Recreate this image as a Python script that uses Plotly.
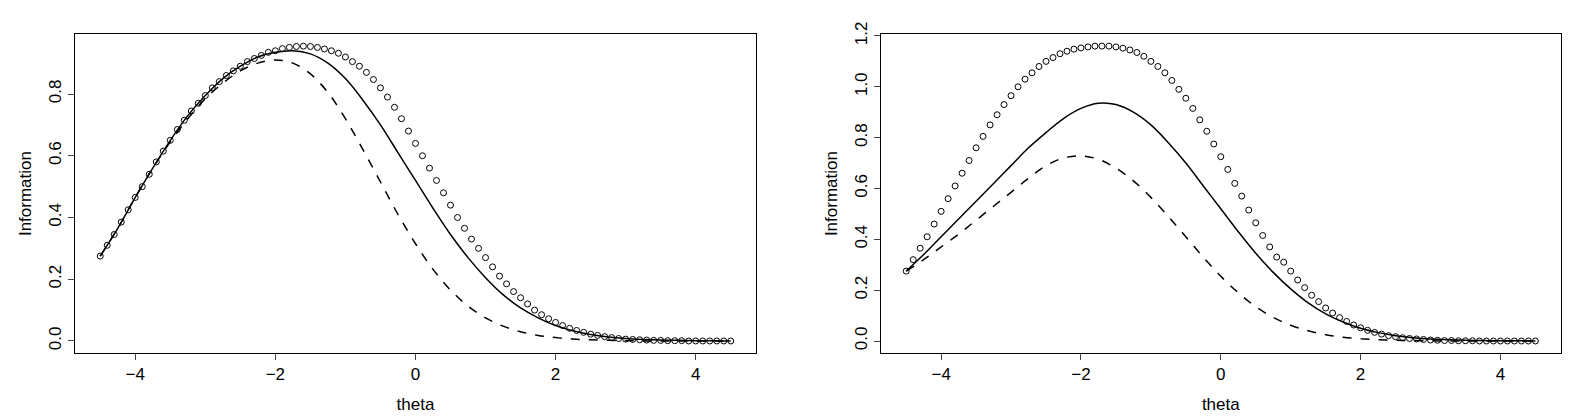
import numpy as np
import plotly.graph_objects as go

theta_pts = np.round(np.arange(-4.5, 4.51, 0.1), 1)
theta_line = np.arange(-4.5, 4.51, 0.25)

left_circles = [
    .275, .31, .345, .385, .425, .465, .50, .54, .58, .615, .65, .685, .715, .745, .77, .795,
    .82, .84, .86, .875, .89, .905, .915, .925, .935, .94, .947, .951, .954, .955, .954, .951,
    .946, .94, .932, .92, .905, .89, .87, .847, .82, .79, .757, .72, .68, .64, .60,
    .56, .52, .48, .44, .40, .365, .33, .30, .27, .24, .21, .185, .16, .14, .12,
    .10, .085, .072, .06, .05, .041, .034, .028, .022, .018, .014, .011, .008, .006,
    .005, .004, .003, .002, .002, .001, .001, .001, 0, 0, 0, 0, 0, 0, 0]
left_solid = [
    .275, .365, .465, .56, .65, .73, .795, .85, .89, .92, .935, .94, .93, .9, .85, .78, .70,
    .61, .52, .43, .345, .27, .205, .15, .107, .075, .05, .033, .021, .013, .008, .005,
    .003, .002, .001, .001, 0]
left_dashed = [
    .275, .365, .465, .56, .645, .72, .785, .835, .875, .9, .91, .9, .865, .805, .72, .62,
    .515, .41, .315, .232, .165, .113, .075, .048, .03, .018, .011, .006, .004, .002, .001,
    0, 0, 0, 0, 0, 0]

right_circles = [
    .275, .32, .365, .41, .46, .51, .56, .61, .66, .71, .76, .805, .85, .89, .93, .965, 1.0,
    1.03, 1.055, 1.08, 1.10, 1.115, 1.13, 1.14, 1.148, 1.153, 1.157, 1.16, 1.16, 1.16,
    1.157, 1.152, 1.145, 1.135, 1.12, 1.10, 1.08, 1.055, 1.025, .99, .955, .915, .87, .825,
    .775, .725, .675, .62, .57, .515, .465, .415, .37, .33, .31, .275, .24, .21, .18,
    .155, .13, .11, .092, .077, .063, .052, .042, .034, .027, .021, .017, .013, .01, .008,
    .006, .004, .003, .002, .002, .001, .001, .001, 0, 0, 0, 0, 0, 0, 0, 0, 0]
right_solid = [
    .275, .34, .41, .48, .55, .62, .69, .76, .82, .875, .915, .935, .93, .9, .85, .78, .70,
    .61, .52, .43, .345, .27, .205, .15, .107, .075, .05, .033, .021, .013, .008, .005,
    .003, .002, .001, .001, 0]
right_dashed = [
    .275, .32, .37, .42, .475, .53, .585, .64, .69, .72, .728, .715, .68, .63, .565, .49,
    .41, .33, .255, .19, .135, .093, .062, .04, .025, .015, .009, .005, .003, .002, .001,
    0, 0, 0, 0, 0, 0]

fig = go.Figure()
for xa, ya, circ, sol, dash in [("x", "y", left_circles, left_solid, left_dashed),
                                ("x2", "y2", right_circles, right_solid, right_dashed)]:
    fig.add_trace(go.Scatter(x=theta_line, y=sol, mode="lines", line=dict(color="black", width=1.5, shape="spline"),
                             xaxis=xa, yaxis=ya))
    fig.add_trace(go.Scatter(x=theta_line, y=dash, mode="lines",
                             line=dict(color="black", width=1.5, dash="dash", shape="spline"), xaxis=xa, yaxis=ya))
    fig.add_trace(go.Scatter(x=theta_pts, y=circ, mode="markers",
                             marker=dict(symbol="circle-open", size=6, color="black", line=dict(width=1)),
                             xaxis=xa, yaxis=ya))

ax = dict(showline=True, mirror=True, linecolor="black", linewidth=1, ticks="outside", ticklen=6,
          showgrid=False, zeroline=False, tickfont=dict(size=17, color="black"))
fig.update_layout(
    width=1573, height=420, showlegend=False, plot_bgcolor="white", paper_bgcolor="white",
    margin=dict(l=0, r=0, t=0, b=0), font=dict(family="Liberation Sans, Arial", color="black"),
    xaxis=dict(ax, domain=[0.0426, 0.4755], range=[-4.86, 4.86], tickvals=[-4, -2, 0, 2, 4],
               ticktext=["−4", "−2", "0", "2", "4"], title=dict(text="theta", font=dict(size=17), standoff=14), anchor="y"),
    yaxis=dict(ax, domain=[0.185, 0.967], range=[-0.038, 0.993], tickvals=[0, 0.2, 0.4, 0.6, 0.8],
               tickformat=".1f", tickangle=-90, title=dict(text="Information", font=dict(size=17), standoff=10), anchor="x"),
    xaxis2=dict(ax, domain=[0.555, 0.987], range=[-4.86, 4.86], tickvals=[-4, -2, 0, 2, 4],
                ticktext=["−4", "−2", "0", "2", "4"], title=dict(text="theta", font=dict(size=17), standoff=14), anchor="y2"),
    yaxis2=dict(ax, domain=[0.185, 0.967], range=[-0.046, 1.206], tickvals=[0, 0.2, 0.4, 0.6, 0.8, 1.0, 1.2],
                tickformat=".1f", tickangle=-90, title=dict(text="Information", font=dict(size=17), standoff=10), anchor="x2"),
)
fig.write_html("out.html")
